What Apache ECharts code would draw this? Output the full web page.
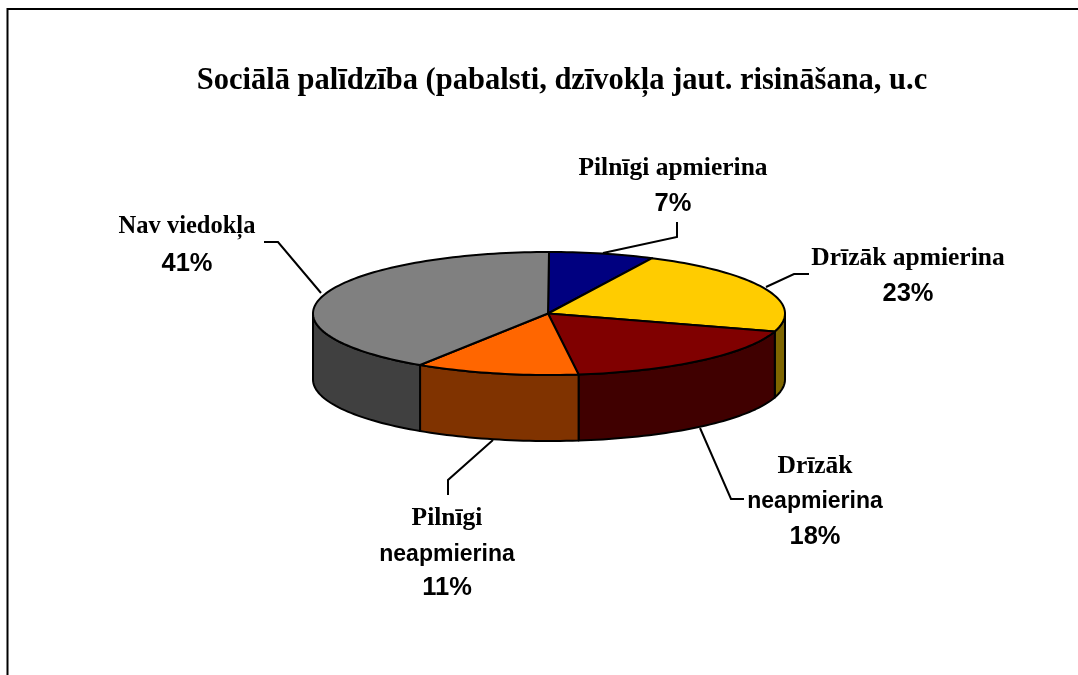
<!DOCTYPE html>
<html>
<head>
<meta charset="utf-8">
<style>html,body{margin:0;padding:0;background:#fff}#c{width:1078px;height:675px}</style>
<script src="https://cdn.jsdelivr.net/npm/echarts@6/dist/echarts.min.js"></script>
</head>
<body>
<div id="c"></div>
<script>
const chartTitle = 'Sociālā palīdzība (pabalsti, dzīvokļa jaut. risināšana, u.c';
const categories = ['Pilnīgi apmierina', 'Drīzāk apmierina', 'Drīzāk neapmierina', 'Pilnīgi neapmierina', 'Nav viedokļa'];
const values = [7.2, 22.5, 18.3, 11.2, 40.8];
const topColors = ['#000080', '#FFCC00', '#800000', '#FF6600', '#808080'];
const wallColors = ['#000040', '#7F6600', '#400000', '#803300', '#404040'];

// Where each label block sits, and its leader line
const labelBlocks = [
  { x: 673, lines: [['Pilnīgi apmierina', 168, 0], ['7%', 204, 1]], leader: [[677, 222], [677, 237], [603, 253]] },
  { x: 908, lines: [['Drīzāk apmierina', 258, 0], ['23%', 294, 1]], leader: [[809, 274], [794, 274], [766, 287]] },
  { x: 815, lines: [['Drīzāk', 466, 0], ['neapmierina', 502, 2], ['18%', 537, 1]], leader: [[700, 428], [731, 499], [744, 499]] },
  { x: 447, lines: [['Pilnīgi', 518, 0], ['neapmierina', 555, 2], ['11%', 588, 1]], leader: [[493, 440], [448, 480], [448, 495]] },
  { x: 187, lines: [['Nav viedokļa', 227, 3], ['41%', 264, 1]], leader: [[264, 242], [278, 242], [321, 293]] }
];
const lineFonts = [
  { fontFamily: 'Liberation Serif', fontSize: 25.5, fontWeight: 'bold' },
  { fontFamily: 'Liberation Sans', fontSize: 25.5, fontWeight: 'bold' },
  { fontFamily: 'Liberation Sans', fontSize: 23, fontWeight: 'bold' },
  { fontFamily: 'Liberation Serif', fontSize: 24.5, fontWeight: 'bold' }
];

const cx = 549, cy = 313.5, rx = 236, ry = 61.5, depth = 66;
const total = values.reduce((a, b) => a + b, 0);
const starts = [];
values.reduce((acc, v, i) => { starts[i] = acc; return acc + v; }, 0);

function pt(deg, dy) {
  const r = deg * Math.PI / 180;
  return [cx + rx * Math.sin(r), cy - ry * Math.cos(r) + (dy || 0)];
}
function arc(a, b, dy) {
  const out = [];
  const n = Math.max(2, Math.ceil(Math.abs(b - a) / 1.5));
  for (let i = 0; i <= n; i++) out.push(pt(a + (b - a) * i / n, dy));
  return out;
}

function renderItem(params, api) {
  const i = params.dataIndex;
  const v = api.value(0);
  const a0 = starts[i] / total * 360;
  const a1 = a0 + v / total * 360;
  const children = [];
  const lineStyle = { stroke: '#000', lineWidth: 2, lineJoin: 'round' };

  // side wall: only the part facing the viewer
  const w0 = Math.max(a0, 90), w1 = Math.min(a1, 270);
  if (w1 > w0) {
    children.push({
      type: 'polygon', z2: 1,
      shape: { points: arc(w0, w1, 0).concat(arc(w1, w0, depth)) },
      style: Object.assign({ fill: wallColors[i] }, lineStyle)
    });
  }
  // top face
  children.push({
    type: 'polygon', z2: 2,
    shape: { points: [[cx - 1, cy]].concat(arc(a0, a1, 0)) },
    style: Object.assign({ fill: topColors[i] }, lineStyle)
  });
  // leader and label
  const block = labelBlocks[i];
  children.push({
    type: 'polyline', z2: 3,
    shape: { points: block.leader },
    style: { stroke: '#000', lineWidth: 2, fill: 'none' }
  });
  block.lines.forEach(l => {
    children.push({
      type: 'text', z2: 4,
      style: Object.assign({
        text: l[0], x: block.x, y: l[1], fill: '#000',
        align: 'center', verticalAlign: 'middle'
      }, lineFonts[l[2]])
    });
  });
  return { type: 'group', children };
}

const chart = echarts.init(document.getElementById('c'), null, { renderer: 'canvas' });
chart.setOption({
  animation: false,
  backgroundColor: '#fff',
  title: {
    text: chartTitle, left: 557, top: 61, textAlign: 'center',
    textStyle: { fontFamily: 'Liberation Serif', fontSize: 30.5, fontWeight: 'bold', color: '#000' }
  },
  graphic: [{
    type: 'polyline', silent: true,
    shape: { points: [[7.5, 675], [7.5, 9], [1078, 9]] },
    style: { stroke: '#000', lineWidth: 2, fill: 'none' }
  }],
  series: [{
    type: 'custom',
    coordinateSystem: 'none',
    renderItem,
    silent: true,
    clip: false,
    data: values.map((v, i) => ({ name: categories[i], value: [v] }))
  }]
});
</script>
</body>
</html>
